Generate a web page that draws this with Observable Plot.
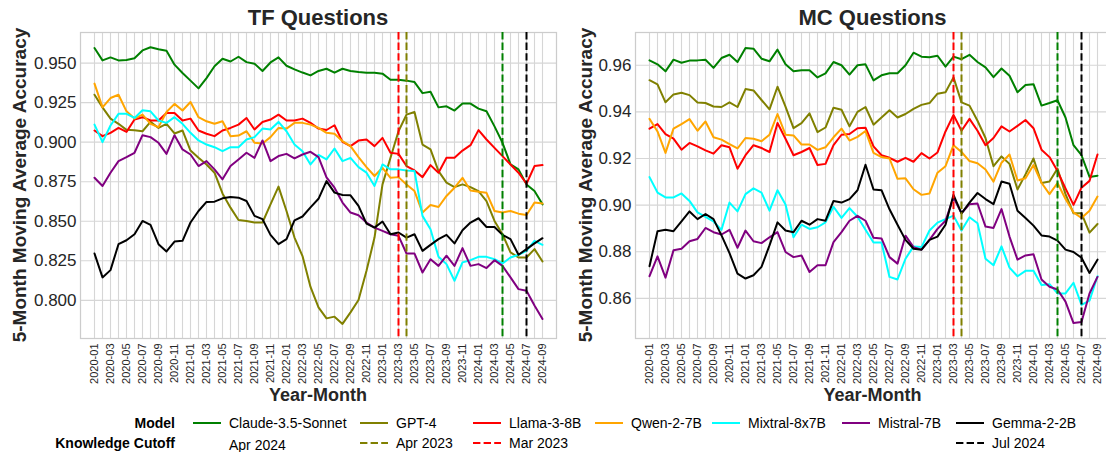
<!DOCTYPE html>
<html>
<head>
<meta charset="utf-8">
<script src="https://cdn.jsdelivr.net/npm/d3@7"></script>
<script src="https://cdn.jsdelivr.net/npm/@observablehq/plot@0.6"></script>
<style>
  html, body { margin: 0; padding: 0; background: #fff; }
  #wrap { position: relative; width: 1106px; height: 452px; overflow: hidden; background: #fff;
          font-family: "Liberation Sans", Arial, sans-serif; }
  #wrap > svg, #wrap > div { position: absolute; top: 0; }
</style>
</head>
<body>
<div id="wrap"></div>
<script>
// ---------------- DATA ----------------
const models = ["Claude-3.5-Sonnet", "GPT-4", "Llama-3-8B", "Qwen-2-7B", "Mixtral-8x7B", "Mistral-7B", "Gemma-2-2B"];
const modelColors = ["green", "olive", "red", "orange", "cyan", "purple", "black"];

// month categories 2020-01 .. 2024-09
const months = [];
for (let y = 2020; y <= 2024; y++) for (let m = 1; m <= 12; m++) {
  if (y === 2024 && m > 9) break;
  months.push(`${y}-${String(m).padStart(2, "0")}`);
}
const tickMonths = months.filter((d, i) => i % 2 === 0);

// knowledge cutoffs
const cutoffModels = ["Claude-3.5-Sonnet", "GPT-4", "Llama-3-8B", "Gemma-2-2B"];
const cutoffMonths = ["2024-04", "2023-04", "2023-03", "2024-07"];
const cutoffLabels = ["Apr 2024", "Apr 2023", "Mar 2023", "Jul 2024"];

// TF Questions (5-month moving average accuracy)
const tfClaude = [0.9595,0.9517,0.9536,0.9517,0.952,0.953,0.958,0.960,0.9588,0.9578,0.949,0.9437,0.9389,0.934,0.9405,0.948,0.9527,0.951,0.954,0.9506,0.9496,0.945,0.9504,0.9536,0.9483,0.946,0.944,0.9422,0.945,0.9464,0.9439,0.9464,0.945,0.9443,0.9439,0.9439,0.9433,0.9395,0.9395,0.9389,0.938,0.931,0.9319,0.922,0.9227,0.920,0.9244,0.9244,0.9212,0.9195,0.910,0.8996,0.886,0.8828,0.8733,0.8691,0.8607];
const tfGPT4 = [0.930,0.922,0.9149,0.9116,0.9078,0.9076,0.9069,0.9128,0.909,0.9116,0.9055,0.9074,0.8947,0.8901,0.8859,0.8807,0.8676,0.8586,0.8508,0.8502,0.8492,0.8492,0.8607,0.8719,0.8565,0.8397,0.828,0.8085,0.7956,0.7886,0.7897,0.7851,0.7924,0.8002,0.8187,0.8397,0.8733,0.8901,0.9069,0.9174,0.9191,0.8985,0.8954,0.8817,0.8744,0.8716,0.8733,0.8716,0.8691,0.8628,0.8502,0.8418,0.8303,0.8271,0.8271,0.8324,0.8246];
const tfLlama = [0.9074,0.9038,0.9059,0.909,0.9065,0.9143,0.9158,0.9137,0.9137,0.9185,0.9185,0.9137,0.9149,0.9074,0.9053,0.9038,0.9074,0.909,0.9111,0.9153,0.908,0.9128,0.9143,0.9174,0.9137,0.9137,0.9149,0.9122,0.9086,0.9077,0.9107,0.9002,0.8975,0.901,0.9017,0.8975,0.9027,0.8933,0.8926,0.8849,0.8821,0.8779,0.8855,0.8807,0.8901,0.8901,0.8947,0.8981,0.9076,0.9017,0.8964,0.8912,0.8859,0.8807,0.8737,0.8849,0.8855];
const tfQwen = [0.937,0.922,0.9279,0.930,0.9195,0.9149,0.9174,0.9116,0.9095,0.9191,0.9242,0.920,0.9254,0.9158,0.9132,0.9116,0.9132,0.9038,0.9042,0.9069,0.8996,0.8992,0.9032,0.909,0.9086,0.9122,0.9122,0.9111,0.909,0.9059,0.9053,0.9006,0.8975,0.8905,0.8842,0.8786,0.8838,0.8775,0.8779,0.8733,0.8691,0.8555,0.8603,0.859,0.866,0.8712,0.8775,0.8695,0.8687,0.868,0.8565,0.8555,0.8565,0.8548,0.854,0.8618,0.8613];
const tfMixtral = [0.9111,0.900,0.9105,0.9179,0.9179,0.9153,0.9202,0.9195,0.9137,0.9122,0.9158,0.9116,0.9059,0.9011,0.8985,0.8968,0.8943,0.8968,0.8968,0.9017,0.9032,0.9086,0.908,0.9128,0.9069,0.8985,0.8943,0.8859,0.892,0.8891,0.896,0.888,0.8901,0.8842,0.8807,0.8723,0.8859,0.8828,0.8828,0.8821,0.8817,0.8534,0.845,0.8275,0.8229,0.8124,0.824,0.8254,0.8275,0.8275,0.826,0.8233,0.8271,0.8288,0.8313,0.8376,0.8351];
const tfMistral = [0.8775,0.8723,0.8807,0.888,0.8905,0.8933,0.9044,0.9032,0.8996,0.8926,0.9044,0.8954,0.8922,0.8849,0.888,0.8828,0.8765,0.8849,0.8891,0.8933,0.8901,0.9011,0.888,0.8912,0.8926,0.8897,0.8922,0.8939,0.8905,0.8777,0.8712,0.8618,0.8555,0.8538,0.8492,0.846,0.8439,0.8418,0.8408,0.8296,0.8296,0.8176,0.826,0.8218,0.8282,0.8218,0.833,0.8218,0.8229,0.8204,0.8254,0.8218,0.8145,0.8071,0.8061,0.7967,0.7882];
const tfGemma = [0.8296,0.8145,0.8191,0.8355,0.838,0.8418,0.8502,0.8477,0.8355,0.8309,0.8372,0.8376,0.8492,0.8565,0.8622,0.8624,0.8645,0.8653,0.8649,0.8628,0.8534,0.8513,0.8414,0.8355,0.8387,0.8506,0.853,0.8588,0.8642,0.8754,0.8681,0.8666,0.8664,0.8597,0.8485,0.846,0.8498,0.8418,0.8429,0.8397,0.8418,0.8313,0.8351,0.8387,0.8414,0.836,0.8443,0.8492,0.8519,0.8464,0.8464,0.8414,0.8387,0.8288,0.8324,0.836,0.8393];

// MC Questions
const mcClaude = [0.9621,0.9604,0.9574,0.9624,0.9611,0.962,0.9621,0.9624,0.9589,0.9631,0.9645,0.9614,0.9674,0.9671,0.9628,0.9617,0.9667,0.9604,0.9574,0.9579,0.9579,0.9548,0.9565,0.9614,0.96,0.956,0.96,0.9604,0.9535,0.9557,0.9566,0.9566,0.96,0.9654,0.9637,0.9634,0.9641,0.9594,0.9637,0.9626,0.9645,0.9614,0.9591,0.9549,0.9586,0.9555,0.9484,0.9515,0.9519,0.9427,0.9438,0.945,0.9376,0.9257,0.9214,0.9121,0.9126];
const mcGPT4 = [0.9536,0.9518,0.9441,0.9475,0.9482,0.9472,0.944,0.9438,0.9423,0.9421,0.9441,0.9421,0.9498,0.9492,0.9451,0.9411,0.9508,0.9423,0.933,0.9352,0.9394,0.9313,0.9333,0.9418,0.9409,0.9338,0.94,0.9421,0.9345,0.9376,0.9407,0.9376,0.9391,0.9413,0.943,0.9438,0.9478,0.9484,0.9548,0.9441,0.9427,0.9362,0.9288,0.9167,0.9209,0.9177,0.9067,0.9132,0.92,0.9095,0.9101,0.9157,0.9047,0.8965,0.8965,0.8882,0.8919];
const mcLlama = [0.9328,0.9348,0.9305,0.9285,0.9238,0.9267,0.9252,0.9235,0.9221,0.9257,0.9248,0.9156,0.9214,0.9257,0.9245,0.9228,0.9352,0.9285,0.9214,0.9228,0.9245,0.9172,0.9177,0.9257,0.9302,0.9305,0.933,0.9332,0.9252,0.9214,0.9203,0.9186,0.9203,0.9186,0.9223,0.92,0.9226,0.9316,0.9387,0.9319,0.937,0.9319,0.9257,0.9288,0.9338,0.9316,0.934,0.9365,0.933,0.9238,0.9206,0.9146,0.9072,0.9001,0.9075,0.9104,0.9217];
const mcQwen = [0.937,0.9316,0.9224,0.9328,0.9348,0.9369,0.9319,0.9359,0.9291,0.9281,0.9262,0.9243,0.9288,0.9285,0.9274,0.9302,0.9391,0.9302,0.9299,0.926,0.926,0.9237,0.9248,0.9291,0.9328,0.9277,0.9293,0.9318,0.9224,0.9206,0.92,0.9113,0.9115,0.9068,0.9044,0.905,0.9139,0.9167,0.9257,0.9228,0.9189,0.918,0.9153,0.9101,0.9182,0.9217,0.9106,0.9115,0.9172,0.9096,0.9047,0.9095,0.9026,0.8969,0.8945,0.8976,0.9037];
const mcMixtral = [0.912,0.9054,0.9033,0.9033,0.905,0.9018,0.8969,0.895,0.893,0.8894,0.9011,0.8973,0.9047,0.9072,0.9054,0.8976,0.9064,0.9003,0.8862,0.8916,0.8898,0.8905,0.8926,0.8993,0.8945,0.8987,0.895,0.8894,0.884,0.884,0.8692,0.8681,0.877,0.8823,0.882,0.8891,0.8925,0.894,0.8955,0.8891,0.8948,0.8922,0.877,0.8742,0.8823,0.8732,0.8695,0.8718,0.8718,0.8657,0.8661,0.8621,0.8621,0.8667,0.8572,0.859,0.8695];
const mcMistral = [0.8695,0.878,0.8689,0.8806,0.8813,0.8845,0.8855,0.8902,0.8884,0.8874,0.8894,0.8817,0.8891,0.8845,0.8837,0.8862,0.8884,0.8799,0.8777,0.8784,0.8713,0.8742,0.8742,0.8841,0.8884,0.8933,0.8954,0.8933,0.886,0.8857,0.8777,0.8749,0.8869,0.882,0.8809,0.8851,0.8898,0.8933,0.9033,0.8965,0.9004,0.9007,0.8908,0.8902,0.8983,0.8865,0.8766,0.8784,0.8789,0.8681,0.865,0.8638,0.8586,0.8494,0.8499,0.8621,0.8692];
const mcGemma = [0.8738,0.8888,0.8894,0.8888,0.893,0.8973,0.894,0.8962,0.894,0.887,0.8794,0.8706,0.8685,0.8699,0.8735,0.8827,0.8926,0.8891,0.8884,0.8933,0.8916,0.894,0.8933,0.9018,0.9011,0.9026,0.9064,0.9173,0.9067,0.9064,0.8982,0.8916,0.8851,0.8813,0.8809,0.8851,0.8865,0.8916,0.9044,0.8965,0.9011,0.9052,0.9026,0.9004,0.9101,0.9092,0.8976,0.8945,0.8912,0.887,0.8865,0.8848,0.8809,0.8799,0.8774,0.8709,0.8766];

const tfTicks = [0.800, 0.825, 0.850, 0.875, 0.900, 0.925, 0.950];
const mcTicks = [0.86, 0.88, 0.90, 0.92, 0.94, 0.96];

// ---------------- BUILD ----------------
function toRows(seriesList) {
  const rows = [];
  seriesList.forEach((vals, k) => vals.forEach((v, i) => rows.push({model: models[k], month: months[i], value: v})));
  return rows;
}
const tfRows = toRows([tfClaude, tfGPT4, tfLlama, tfQwen, tfMixtral, tfMistral, tfGemma]);
const mcRows = toRows([mcClaude, mcGPT4, mcLlama, mcQwen, mcMixtral, mcMistral, mcGemma]);
const cutoffRows = cutoffModels.map((m, i) => ({model: m, month: cutoffMonths[i]}));

const GRID = "#d6d6d6";
const TXT = "#262626";

function panel(rows, yDomain, yTicks, yFmt, mLeft, mRight) {
  return Plot.plot({
    width: 560, height: 400,
    marginLeft: mLeft, marginRight: mRight, marginTop: 32, marginBottom: 62,
    style: {fontFamily: '"Liberation Sans", Arial, sans-serif', color: TXT, background: "white"},
    x: {type: "point", domain: months, padding: 1, label: null},
    y: {domain: yDomain, label: null},
    color: {domain: models, range: modelColors},
    marks: [
      Plot.gridX(months, {stroke: GRID, strokeOpacity: 1, strokeWidth: 1.1}),
      Plot.gridY(yTicks, {stroke: GRID, strokeOpacity: 1, strokeWidth: 1.1}),
      Plot.frame({stroke: "#cccccc", strokeWidth: 1.25}),
      Plot.axisX(tickMonths, {tickRotate: -90, tickSize: 0, tickPadding: 5, fontSize: 11, label: null, fill: TXT}),
      Plot.axisY(yTicks, {tickSize: 0, tickPadding: 4, fontSize: 17, tickFormat: yFmt, label: null, fill: TXT}),
      Plot.line(rows, {x: "month", y: "value", z: "model", stroke: "model", strokeWidth: 2}),
      Plot.ruleX(cutoffRows, {x: "month", stroke: "model", strokeWidth: 2, strokeDasharray: "7.4,3.2"})
    ]
  });
}

const wrap = document.getElementById("wrap");
const left = panel(tfRows, [0.77588, 0.96933], tfTicks, d3.format(".3f"), 80, 4);
left.style.left = "0px";
wrap.appendChild(left);
const right = panel(mcRows, [0.84278, 0.97406], mcTicks, d3.format(".2f"), 75, 9);
right.style.left = "560px";
wrap.appendChild(right);

// ---------------- OVERLAY TEXT + LEGEND ----------------
const ov = d3.select(wrap).append("svg")
  .attr("width", 1106).attr("height", 452)
  .style("left", "0px").style("pointer-events", "none")
  .style("font-family", '"Liberation Sans", Arial, sans-serif');

const panelsText = [
  {title: "TF Questions", cx: 318, ylx: 19},
  {title: "MC Questions", cx: 872.5, ylx: 585}
];
panelsText.forEach(p => {
  ov.append("text").attr("x", p.cx).attr("y", 17).attr("text-anchor", "middle")
    .attr("dominant-baseline", "central").attr("font-weight", "bold").attr("font-size", 22)
    .attr("fill", TXT).text(p.title);
  ov.append("text").attr("x", p.cx).attr("y", 395).attr("text-anchor", "middle")
    .attr("dominant-baseline", "central").attr("font-weight", "bold").attr("font-size", 18)
    .attr("fill", TXT).text("Year-Month");
  ov.append("text").attr("transform", `translate(${p.ylx},185) rotate(-90)`)
    .attr("text-anchor", "middle").attr("dominant-baseline", "central")
    .attr("font-weight", "bold").attr("font-size", 19).attr("fill", TXT)
    .text("5-Month Moving Average Accuracy");
});

// legend
const row1 = 423, row2 = 443;
const legendX = [193, 360, 473, 595, 712, 842, 956];
ov.append("text").attr("x", 175).attr("y", row1).attr("text-anchor", "end")
  .attr("dominant-baseline", "central").attr("font-weight", "bold").attr("font-size", 14)
  .attr("fill", "#000").text("Model");
ov.append("text").attr("x", 175).attr("y", row2).attr("text-anchor", "end")
  .attr("dominant-baseline", "central").attr("font-weight", "bold").attr("font-size", 14)
  .attr("fill", "#000").text("Knowledge Cutoff");
models.forEach((m, i) => {
  const x = legendX[i];
  ov.append("line").attr("x1", x).attr("x2", x + 28).attr("y1", row1).attr("y2", row1)
    .attr("stroke", modelColors[i]).attr("stroke-width", 2);
  ov.append("text").attr("x", x + 36).attr("y", row1).attr("dominant-baseline", "central")
    .attr("font-size", 14).attr("fill", "#000").text(m);
  const c = cutoffModels.indexOf(m);
  if (c >= 0) {
    const hasHandle = m !== "Claude-3.5-Sonnet";
    if (hasHandle) {
      ov.append("line").attr("x1", x).attr("x2", x + 28).attr("y1", row2).attr("y2", row2)
        .attr("stroke", modelColors[i]).attr("stroke-width", 2).attr("stroke-dasharray", "7.4,3.2");
    }
    ov.append("text").attr("x", x + 36).attr("y", hasHandle ? row2 : row2 + 2)
      .attr("dominant-baseline", "central").attr("font-size", 14).attr("fill", "#000")
      .text(cutoffLabels[c]);
  }
});
</script>
</body>
</html>
